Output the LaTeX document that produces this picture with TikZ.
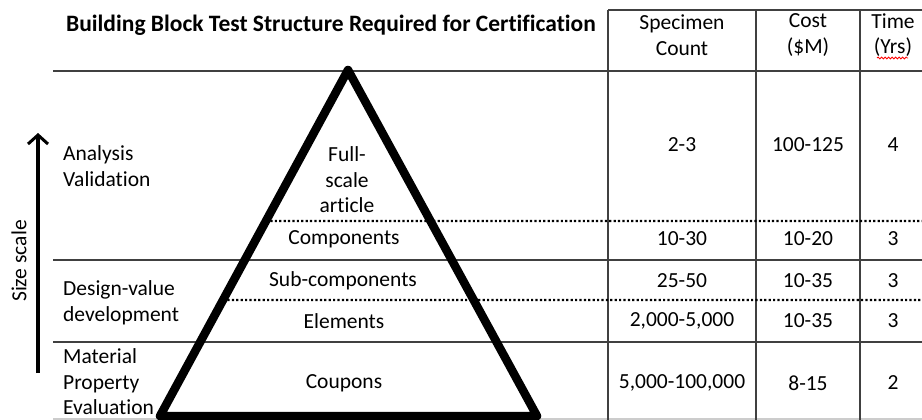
\documentclass[tikz,border=0pt]{standalone}
\usepackage{fontspec}
\setmainfont{Carlito}[Ligatures=CommonOff]
\usetikzlibrary{arrows.meta,decorations.pathmorphing}

\begin{document}
\begin{tikzpicture}[x=1pt, y=-1pt,
  every node/.style={font=\fontsize{21.5}{25.5}\selectfont, inner sep=0pt, align=center},
  rule/.style={line width=1.6pt, draw=black!75},
  dotrule/.style={line width=2.2pt, dash pattern=on 2.2pt off 2.2pt},
  tri/.style={line width=8.5pt, line join=round}]
  \useasboundingbox (0,0) rectangle (922,420);

  % table rules
  \draw[rule] (608,10) -- (922,10);
  \draw[rule] (53,71) -- (922,71);
  \draw[rule] (53,260) -- (922,260);
  \draw[rule] (53,342) -- (922,342);
  \draw[rule, draw=black!20] (53,419) -- (922,419);
  \foreach \x in {608,756,860}
    \draw[rule] (\x,10) -- (\x,420);

  % pyramid corners
  \coordinate (A) at (348,70);
  \coordinate (B) at (160,416);
  \coordinate (C) at (537,416);
  \path (A) -- (B) coordinate[pos=0.4364] (D1) coordinate[pos=0.6647] (D2);
  \draw[dotrule] (D1) -- (922,221);
  \draw[dotrule] (D2) -- (922,300);
  \draw[tri] (A)--(B)--(C)--cycle;

  % size scale arrow
  \coordinate (S1) at (38,373); \coordinate (S2) at (38,133);
  \draw[line width=3.5pt, -{Straight Barb[length=9pt,width=20pt,line width=3pt]}] (S1) -- (S2);
  \node[rotate=90] (size) at (19,261) {Size scale};

  % heading
  \node[font=\fontsize{23.5}{25.5}\selectfont\bfseries] (title) at (331,25)
    {Building Block Test Structure Required for Certification};
  \node (hcount) at (682,35) {Specimen\\Count};
  \node (hcost) at (808,35) {Cost\\(\$M)};
  \node (htime) at (893,35) {Time\\(Yrs)};
  \draw[red, line width=0.8pt, decorate,
    decoration={snake, amplitude=1pt, segment length=3.5pt}] (877,58) -- (908,58);

  % test levels
  \node[anchor=west, align=left] (lana) at (63,166) {Analysis\\Validation};
  \node[anchor=west, align=left] (ldes) at (63,303) {Design-value\\development};
  \node[anchor=west, align=left] (lmat) at (63,382) {Material\\Property\\Evaluation};

  \node (pfull) at (347,180) {Full-\\scale\\article};
  \node (pcomp) at (344,239) {Components};
  \node (psub) at (343,281) {Sub-components};
  \node (pelem) at (344,321) {Elements};
  \node (pcoup) at (344,383) {Coupons};

  % count, cost, time
  \node (n1) at (682,145) {2-3};
  \node (c1) at (808,145) {100-125};
  \node (t1) at (893,145) {4};
  \node (n2) at (682,239) {10-30};
  \node (c2) at (808,239) {10-20};
  \node (t2) at (893,239) {3};
  \node (n3) at (682,281) {25-50};
  \node (c3) at (808,281) {10-35};
  \node (t3) at (893,281) {3};
  \node (n4) at (682,321) {2,000-5,000};
  \node (c4) at (808,321) {10-35};
  \node (t4) at (893,321) {3};
  \node (n5) at (682,383) {5,000-100,000};
  \node (c5) at (808,383) {8-15};
  \node (t5) at (893,383) {2};
\end{tikzpicture}
\end{document}
